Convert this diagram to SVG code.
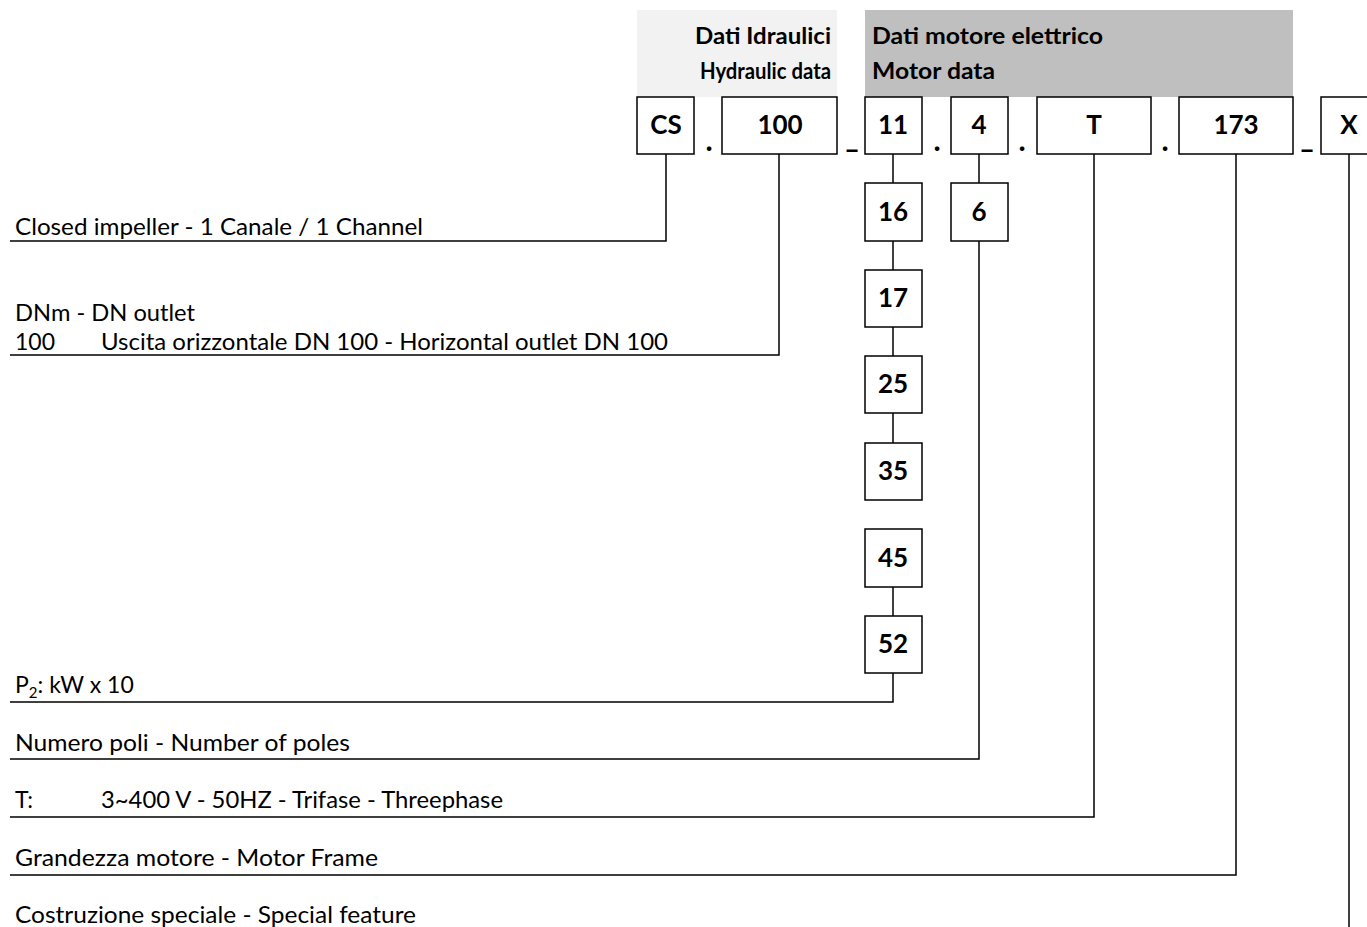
<svg xmlns="http://www.w3.org/2000/svg" width="1367" height="927" viewBox="0 0 1367 927">
<style>
.box{fill:#fff;stroke:#000;stroke-width:1.5}
.lbl{font-family:Lato,"Liberation Sans",sans-serif;font-weight:bold;font-size:26px;text-anchor:middle;fill:#000}
.hdr{font-family:Lato,"Liberation Sans",sans-serif;font-weight:bold;font-size:22px;fill:#000}
.txt{font-family:Lato,"Liberation Sans",sans-serif;font-size:23px;fill:#000}
.sep{font-family:Lato,"Liberation Sans",sans-serif;font-weight:900;font-size:28px;text-anchor:middle;fill:#000}
.ln{fill:none;stroke:#000;stroke-width:1.5}
</style>
<rect width="1367" height="927" fill="#fff"/>
<g id="header-hydraulic">
<rect x="637" y="10" width="200" height="87" fill="#f2f2f2"/>
<text class="hdr" x="831" y="44" text-anchor="end" textLength="136" lengthAdjust="spacingAndGlyphs">Dati Idraulici</text>
<text class="hdr" x="831" y="79" text-anchor="end" textLength="131" lengthAdjust="spacingAndGlyphs">Hydraulic data</text>
</g>
<g id="header-motor">
<rect x="865" y="10" width="428" height="87" fill="#bfbfbf"/>
<text class="hdr" x="872" y="44" textLength="231" lengthAdjust="spacingAndGlyphs">Dati motore elettrico</text>
<text class="hdr" x="872" y="79" textLength="123" lengthAdjust="spacingAndGlyphs">Motor data</text>
</g>
<g id="connectors">
<polyline class="ln" points="666,154 666,241 10,241"/>
<polyline class="ln" points="779,154 779,355 10,355"/>
<line class="ln" x1="893" y1="154" x2="893" y2="183"/>
<line class="ln" x1="893" y1="241" x2="893" y2="270"/>
<line class="ln" x1="893" y1="327" x2="893" y2="356"/>
<line class="ln" x1="893" y1="413" x2="893" y2="443"/>
<line class="ln" x1="893" y1="587" x2="893" y2="616"/>
<polyline class="ln" points="893,673 893,702 10,702"/>
<line class="ln" x1="979" y1="154" x2="979" y2="183"/>
<polyline class="ln" points="979,241 979,759 10,759"/>
<polyline class="ln" points="1094,154 1094,817 10,817"/>
<polyline class="ln" points="1236,154 1236,875 10,875"/>
<line class="ln" x1="1349" y1="154" x2="1349" y2="930"/>
</g>
<g id="separators">
<text class="sep" x="709" y="151">.</text>
<text class="sep" x="852" y="148">_</text>
<text class="sep" x="937" y="151">.</text>
<text class="sep" x="1022" y="151">.</text>
<text class="sep" x="1165" y="151">.</text>
<text class="sep" x="1307" y="148">_</text>
</g>
<g id="node-cs"><rect class="box" x="637" y="97" width="57" height="57"/><text class="lbl" x="666" y="134">CS</text></g>
<g id="node-100"><rect class="box" x="722" y="97" width="115" height="57"/><text class="lbl" x="780" y="134">100</text></g>
<g id="node-11"><rect class="box" x="865" y="97" width="57" height="57"/><text class="lbl" x="893" y="134">11</text></g>
<g id="node-4"><rect class="box" x="951" y="97" width="57" height="57"/><text class="lbl" x="979" y="134">4</text></g>
<g id="node-t"><rect class="box" x="1037" y="97" width="114" height="57"/><text class="lbl" x="1094" y="134">T</text></g>
<g id="node-173"><rect class="box" x="1179" y="97" width="114" height="57"/><text class="lbl" x="1236" y="134">173</text></g>
<g id="node-x"><rect class="box" x="1321" y="97" width="57" height="57"/><text class="lbl" x="1349" y="134">X</text></g>
<g id="node-16"><rect class="box" x="865" y="183" width="57" height="58"/><text class="lbl" x="893" y="221">16</text></g>
<g id="node-6"><rect class="box" x="951" y="183" width="57" height="58"/><text class="lbl" x="979" y="221">6</text></g>
<g id="node-17"><rect class="box" x="865" y="270" width="57" height="57"/><text class="lbl" x="893" y="307">17</text></g>
<g id="node-25"><rect class="box" x="865" y="356" width="57" height="57"/><text class="lbl" x="893" y="393">25</text></g>
<g id="node-35"><rect class="box" x="865" y="443" width="57" height="57"/><text class="lbl" x="893" y="480">35</text></g>
<g id="node-45"><rect class="box" x="865" y="529" width="57" height="58"/><text class="lbl" x="893" y="567">45</text></g>
<g id="node-52"><rect class="box" x="865" y="616" width="57" height="57"/><text class="lbl" x="893" y="653">52</text></g>
<g id="labels">
<text class="txt" x="15" y="235" textLength="408" lengthAdjust="spacingAndGlyphs">Closed impeller - 1 Canale / 1 Channel</text>
<text class="txt" x="15" y="321" textLength="180" lengthAdjust="spacingAndGlyphs">DNm - DN outlet</text>
<text class="txt" x="15" y="350" textLength="40" lengthAdjust="spacingAndGlyphs">100</text>
<text class="txt" x="101" y="350" textLength="567" lengthAdjust="spacingAndGlyphs">Uscita orizzontale DN 100 - Horizontal outlet DN 100</text>
<text class="txt" x="15" y="693">P<tspan font-size="15" dy="5">2</tspan><tspan dy="-5">: kW x 10</tspan></text>
<text class="txt" x="15" y="751" textLength="335" lengthAdjust="spacingAndGlyphs">Numero poli - Number of poles</text>
<text class="txt" x="15" y="808">T:</text>
<text class="txt" x="101" y="808" textLength="402" lengthAdjust="spacingAndGlyphs">3~400 V - 50HZ - Trifase - Threephase</text>
<text class="txt" x="15" y="866" textLength="363" lengthAdjust="spacingAndGlyphs">Grandezza motore - Motor Frame</text>
<text class="txt" x="15" y="923" textLength="401" lengthAdjust="spacingAndGlyphs">Costruzione speciale - Special feature</text>
</g>
</svg>
